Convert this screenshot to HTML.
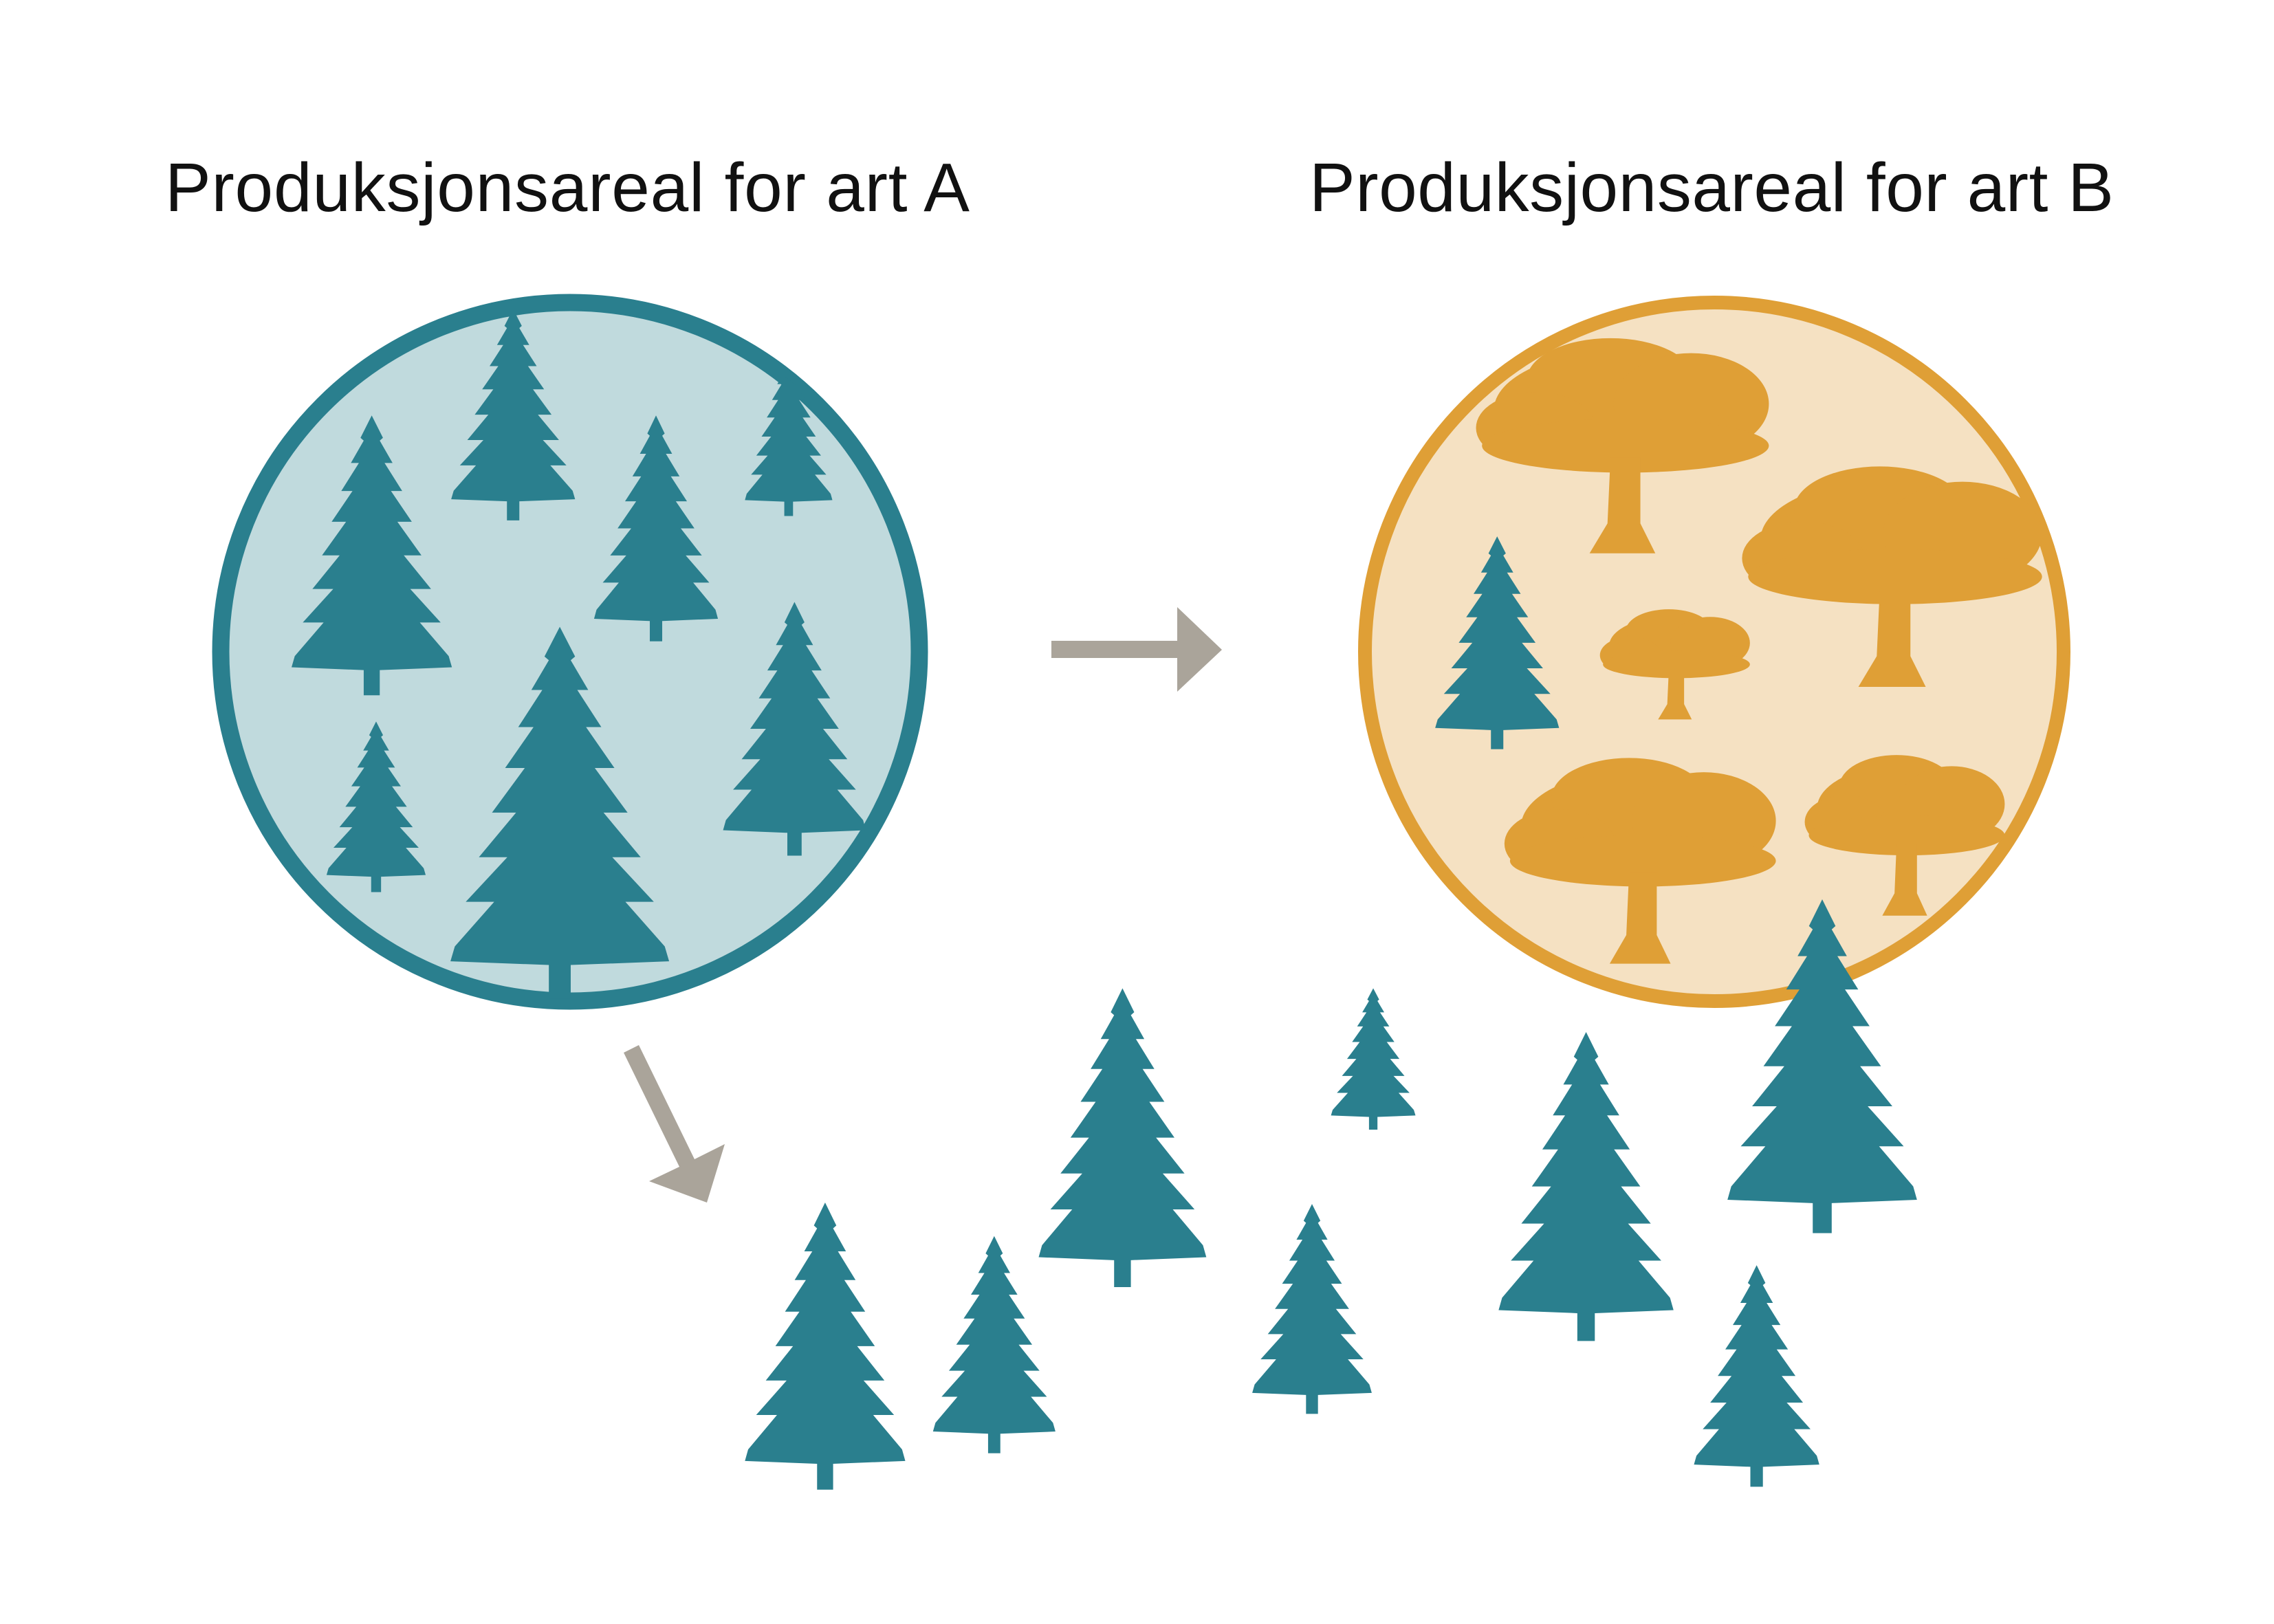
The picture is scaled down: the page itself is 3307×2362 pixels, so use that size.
<!DOCTYPE html>
<html><head><meta charset="utf-8"><style>html,body{margin:0;padding:0;background:#fff}svg{display:block}</style></head>
<body>
<svg width="3307" height="2362" viewBox="0 0 3307 2362" xmlns="http://www.w3.org/2000/svg">
<defs>
<path id="s" d="M0,0 L7,8 L5,9 L13,17 L8,17 L19,27 L12,27 L25,38 L16,38 L31,50 L20,50 L37,62 L24,62 L43,74 L30,74 L48,86 L50,90 L5,91 L5,100 L-5,100 L-5,91 L-50,90 L-48,86 L-30,74 L-43,74 L-24,62 L-37,62 L-20,50 L-31,50 L-16,38 L-25,38 L-12,27 L-19,27 L-8,17 L-13,17 L-5,9 L-7,8 Z" fill="#2a7f8e"/>
<g id="o" fill="#df9f36">
<ellipse cx="0" cy="24" rx="44" ry="20"/>
<ellipse cx="-5" cy="14" rx="28" ry="14"/>
<ellipse cx="22" cy="22" rx="26" ry="17"/>
<ellipse cx="-30" cy="30" rx="20" ry="12"/>
<ellipse cx="0" cy="36" rx="48" ry="9"/>
<path d="M-5,40 L-6,62 L-12,72 L10,72 L5,62 L5,40 Z"/>
</g>
<clipPath id="cl"><circle cx="829" cy="948" r="508"/></clipPath>
</defs>
<text x="240" y="307" font-family="Liberation Sans, sans-serif" font-size="100" textLength="1170" fill="#111">Produksjonsareal for art A</text>
<text x="1904" y="307" font-family="Liberation Sans, sans-serif" font-size="100" textLength="1170" fill="#111">Produksjonsareal for art B</text>
<circle cx="829" cy="948" r="508" fill="#c0dadd" stroke="#2a7f8e" stroke-width="25"/>
<circle cx="2493" cy="948" r="508" fill="#f5e1c2" stroke="#df9f36" stroke-width="20"/>
<g clip-path="url(#cl)">
<g transform="scale(2.12)">
<use href="#s" transform="translate(352,212) scale(0.85,1.45)"/>
<use href="#s" transform="translate(255,285) scale(1.1,1.92)"/>
<use href="#s" transform="translate(450,285) scale(0.85,1.55)"/>
<use href="#s" transform="translate(541,245) scale(0.6,1.09)"/>
<use href="#s" transform="translate(384,430) scale(1.5,2.55)"/>
<use href="#s" transform="translate(258,495) scale(0.68,1.17)"/>
<use href="#s" transform="translate(545,413) scale(0.98,1.74)"/>
</g></g>
<g transform="scale(2.12)">
<use href="#o" transform="translate(1115,232) scale(2.05)"/>
<use href="#o" transform="translate(1300,320) scale(2.1)"/>
<use href="#o" transform="translate(1150,418) scale(1.05)"/>
<use href="#o" transform="translate(1127,520) scale(1.9,1.96)"/>
<use href="#o" transform="translate(1308,518) scale(1.4,1.53)"/>
<use href="#s" transform="translate(1027,368) scale(0.85,1.46)"/>
<use href="#s" transform="translate(770,678) scale(1.15,2.05)"/>
<use href="#s" transform="translate(942,678) scale(0.58,0.97)"/>
<use href="#s" transform="translate(566,825) scale(1.1,1.97)"/>
<use href="#s" transform="translate(682,848) scale(0.84,1.49)"/>
<use href="#s" transform="translate(900,826) scale(0.82,1.44)"/>
<use href="#s" transform="translate(1088,708) scale(1.2,2.12)"/>
<use href="#s" transform="translate(1250,617) scale(1.3,2.29)"/>
<use href="#s" transform="translate(1205,868) scale(0.86,1.52)"/>
</g>
<polygon points="1529,932 1712,932 1712,883 1777,945 1712,1006 1712,957 1529,957" fill="#aaa49a"/>
<polygon points="929,1520 1010,1686 1054,1664 1028,1749 944,1718 988,1697 907,1531" fill="#aaa49a"/>
</svg>
</body></html>
